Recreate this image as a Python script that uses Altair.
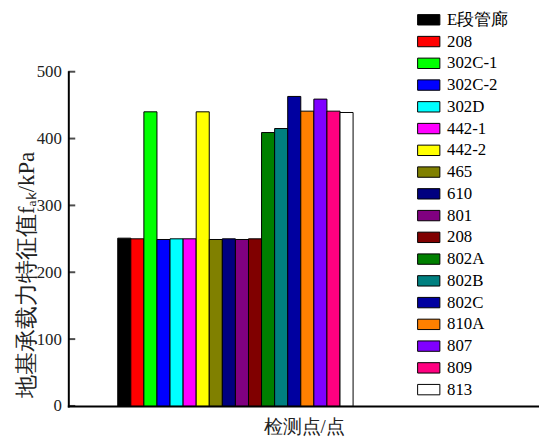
import altair as alt
import pandas as pd

names = ["E段管廊", "208", "302C-1", "302C-2", "302D", "442-1", "442-2", "465",
         "610", "801", "208 ", "802A", "802B", "802C", "810A", "807", "809", "813"]
values = [251, 250, 440, 249, 250, 250, 440, 249, 250, 249, 250, 409, 415, 463, 441, 459, 441, 439]
colors = ["#000000", "#FF0000", "#00FF00", "#0000FF", "#00FFFF", "#FF00FF", "#FFFF00", "#808000",
          "#000080", "#800080", "#800000", "#008000", "#008080", "#0000A0", "#FF8000", "#8000FF",
          "#FF0080", "#FFFFFF"]
y_ticks = [0, 100, 200, 300, 400, 500]

df = pd.DataFrame({"name": names, "value": values})
df["i0"] = range(len(names))
df["i1"] = df["i0"] + 1
df["base"] = 0
ticks_df = pd.DataFrame({"t": y_ticks})

serif = "Liberation Serif"
title_font = "serif"

bars = alt.Chart(df).mark_bar(stroke="black", strokeWidth=1, opacity=1).encode(
    x=alt.X("i0:Q",
            scale=alt.Scale(domain=[-3.78, 32.22], nice=False, zero=False),
            axis=alt.Axis(title="检测点/点", labels=False, ticks=False, grid=False,
                          domainColor="black", domainWidth=2,
                          titleFont=title_font, titleFontSize=19, titleFontWeight="normal",
                          titleColor="#222", titlePadding=12)),
    x2="i1:Q",
    y=alt.Y("value:Q", scale=alt.Scale(domain=[0, 500], nice=False),
            axis=alt.Axis(title="地基承载力特征值fₐₖ/kPa", values=y_ticks, grid=False,
                          ticks=False, labelPadding=7, domainColor="black", domainWidth=2,
                          labelFont=serif, labelFontSize=17, labelColor="#222",
                          titleFont=title_font, titleFontSize=23, titleFontWeight="normal",
                          titleColor="#222", titleX=-42, titleY=205,
                          titleBaseline="middle", titleAlign="center", titleAngle=270)),
    y2="base:Q",
    color=alt.Color("name:N", sort=names,
                    scale=alt.Scale(domain=names, range=colors),
                    legend=alt.Legend(title=None, orient="none", legendX=356, legendY=-61,
                                      symbolType="M-1.5,-0.7L1.5,-0.7L1.5,0.7L-1.5,0.7Z",
                                      symbolSize=225, symbolStrokeColor="black",
                                      symbolStrokeWidth=1, symbolOpacity=1,
                                      labelFont=serif, labelFontSize=17, labelColor="black",
                                      rowPadding=4, labelOffset=10, padding=0)),
)

tick_marks = alt.Chart(ticks_df).mark_tick(color="black", thickness=2, size=7, orient="horizontal").encode(
    y=alt.Y("t:Q"),
    x=alt.value(3.5),
)

chart = alt.layer(bars, tick_marks).properties(
    width=476, height=338,
    autosize=alt.AutoSizeParams(type="none"),
    padding={"left": 61, "top": 62, "right": 0, "bottom": 31},
).configure_view(stroke=None).configure_axis(domainCap="square")

chart.save("out.html", embed_options={"renderer": "svg", "actions": False})
